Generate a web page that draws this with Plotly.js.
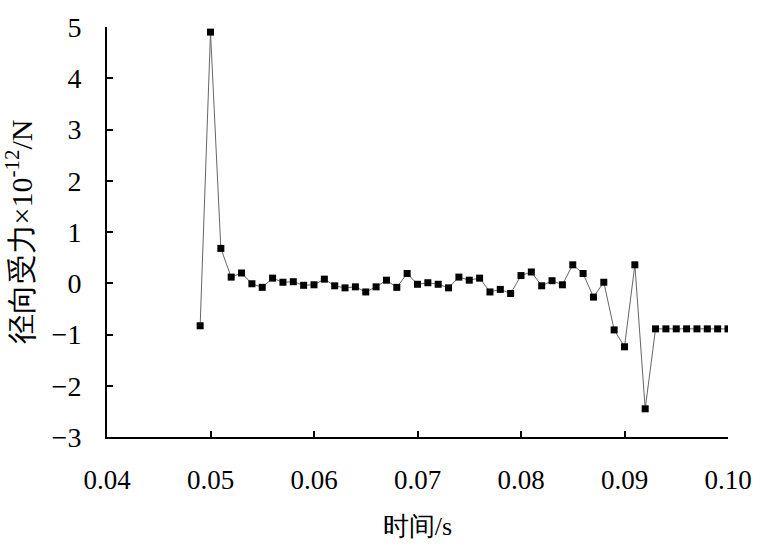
<!DOCTYPE html>
<html>
<head>
<meta charset="utf-8">
<script src="https://cdn.plot.ly/plotly-3.0.1.min.js"></script>
<style>html,body{margin:0;padding:0;background:#fff;}#chart{width:762px;height:552px;}</style>
</head>
<body>
<div id="chart"></div>
<script>
// time (s)
const timeS = [0.049,0.050,0.051,0.052,0.053,0.054,0.055,0.056,0.057,0.058,0.059,
  0.060,0.061,0.062,0.063,0.064,0.065,0.066,0.067,0.068,0.069,
  0.070,0.071,0.072,0.073,0.074,0.075,0.076,0.077,0.078,0.079,
  0.080,0.081,0.082,0.083,0.084,0.085,0.086,0.087,0.088,0.089,
  0.090,0.091,0.092,0.093,0.094,0.095,0.096,0.097,0.098,0.099,0.100];
// radial force (×10^-12 N)
const radialForce = [-0.83,4.9,0.68,0.12,0.2,-0.01,-0.08,0.1,0.02,0.03,-0.04,
  -0.03,0.08,-0.05,-0.09,-0.07,-0.17,-0.07,0.06,-0.08,0.19,
  -0.02,0.01,-0.02,-0.09,0.12,0.06,0.1,-0.17,-0.12,-0.2,
  0.15,0.22,-0.05,0.05,-0.03,0.36,0.19,-0.27,0.02,-0.91,
  -1.24,0.36,-2.45,-0.89,-0.89,-0.89,-0.89,-0.89,-0.89,-0.89,-0.89];
const xTitle = '时间/s';
const yTitle = '径向受力×10<sup>-12</sup>/N';

const serif = 'Liberation Serif';

Plotly.newPlot('chart', [{
  x: timeS, y: radialForce, type: 'scatter', mode: 'lines+markers',
  line: {color: '#666', width: 1},
  marker: {symbol: 'square', size: 7, color: '#000'}
}], {
  width: 762, height: 552,
  margin: {l: 107, r: 34, t: 27, b: 115},
  paper_bgcolor: '#fff', plot_bgcolor: '#fff',
  showlegend: false,
  font: {family: serif, color: '#000'},
  xaxis: {
    range: [0.04, 0.10], dtick: 0.01, tick0: 0.04, tickformat: '.2f',
    showgrid: false, zeroline: false,
    showline: true, linecolor: '#000', linewidth: 2,
    ticks: 'inside', ticklen: 6, tickwidth: 2, tickcolor: '#000',
    ticklabelstandoff: 18,
    tickfont: {family: serif, size: 27, color: '#000'},
    title: {text: xTitle, font: {family: serif, size: 26, color: '#000'}, standoff: 22},
    automargin: false
  },
  yaxis: {
    range: [-3, 5], dtick: 1,
    showgrid: false, zeroline: false,
    showline: true, linecolor: '#000', linewidth: 2,
    ticks: 'inside', ticklen: 6, tickwidth: 2, tickcolor: '#000',
    ticklabelstandoff: 18,
    tickfont: {family: serif, size: 28, color: '#000'},
    title: {text: yTitle, font: {family: serif, size: 30, color: '#000'}, standoff: 10},
    automargin: false
  }
}, {displayModeBar: false, staticPlot: true});
</script>
</body>
</html>
